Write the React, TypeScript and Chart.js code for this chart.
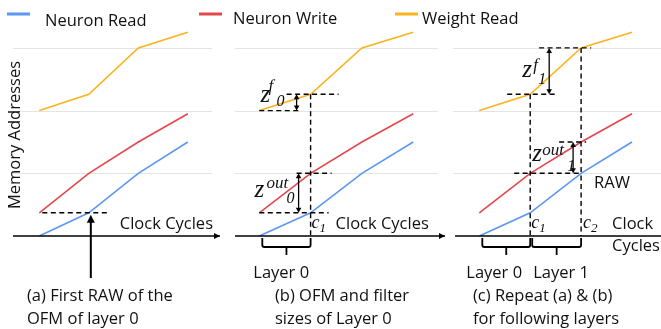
import React, { useEffect, useRef } from "react";
import { Chart, registerables } from "chart.js";

Chart.register(...registerables);

// ---- data ----
const SERIES_NAMES = ["Neuron Read", "Neuron Write", "Weight Read"];
const SERIES_COLORS = ["#5B97F2", "#E4474B", "#FBB31B"];
const CLOCK_STEPS = [0, 1, 2, 3];
const NEURON_READ = [0, 0.37, 1.0, 1.5];
const NEURON_WRITE = [0.37, 1.0, 1.5, 1.95];
const WEIGHT_READ = [2.0, 2.26, 3.0, 3.25];
const GRID_LEVELS = [1, 2, 3];
const PANEL_IDS = ["xa", "xb", "xc"];
const CAPTION_A = ["(a) First RAW of the", "OFM of layer 0"];
const CAPTION_B = ["(b) OFM and filter", "sizes of Layer 0"];
const CAPTION_C = ["(c) Repeat (a) & (b)", "for following layers"];
const AXIS_TEXT = "Clock Cycles";
const Y_TITLE = "Memory Addresses";

// ---- layout (pixels) ----
const W = 661;
const H = 329;
const AXIS_Y = 236;
const Y_UNIT = 62.7;
const PANEL_ORIGIN = [39.3, 259.3, 479.3];
const PANEL_UNIT = [49.5, 51.3, 50.9];
const GRID_SPAN = [[13, 212], [235, 438], [453, 661]];
const AXIS_SPAN = [[13, 220, true], [235, 445, true], [455, 670, false]];

const SANS = '"Open Sans", "DejaVu Sans", sans-serif';
const SERIF = '"Liberation Serif", "DejaVu Serif", serif';
const FS = 16.5;

type Ctx = CanvasRenderingContext2D;

function seg(ctx: Ctx, x1: number, y1: number, x2: number, y2: number, w = 1.5, dash: number[] = []) {
  ctx.save();
  ctx.strokeStyle = "#000";
  ctx.lineWidth = w;
  ctx.setLineDash(dash);
  ctx.beginPath();
  ctx.moveTo(x1, y1);
  ctx.lineTo(x2, y2);
  ctx.stroke();
  ctx.restore();
}
const DASH = [5, 3.5];
function dashH(ctx: Ctx, x1: number, x2: number, y: number) {
  seg(ctx, x1, y, x2, y, 1.4, DASH);
}
function dashV(ctx: Ctx, x: number, y1: number, y2: number) {
  seg(ctx, x, y1, x, y2, 1.4, DASH);
}
function head(ctx: Ctx, x: number, y: number, dx: number, dy: number, len: number, half: number) {
  const px = -dy, py = dx;
  ctx.save();
  ctx.fillStyle = "#000";
  ctx.beginPath();
  ctx.moveTo(x, y);
  ctx.lineTo(x - dx * len + px * half, y - dy * len + py * half);
  ctx.lineTo(x - dx * len - px * half, y - dy * len - py * half);
  ctx.closePath();
  ctx.fill();
  ctx.restore();
}
function dArrow(ctx: Ctx, x: number, yTop: number, yBot: number) {
  seg(ctx, x, yTop + 3, x, yBot - 3, 1.3);
  head(ctx, x, yTop, 0, -1, 5, 2.8);
  head(ctx, x, yBot, 0, 1, 5, 2.8);
}
function txt(ctx: Ctx, s: string, x: number, y: number, font: string, align: CanvasTextAlign = "left") {
  ctx.save();
  ctx.fillStyle = "#111";
  ctx.font = font;
  ctx.textAlign = align;
  ctx.textBaseline = "alphabetic";
  ctx.fillText(s, x, y);
  ctx.restore();
}
function zLabel(ctx: Ctx, x: number, base: number, sup: string, supDx: number, supDy: number, sub: string, subDx: number, subDy: number) {
  txt(ctx, "z", x, base, `italic 25px ${SERIF}`);
  txt(ctx, sup, x + supDx, base + supDy, `italic 17px ${SERIF}`);
  txt(ctx, sub, x + subDx, base + subDy, `italic 16px ${SERIF}`);
}
function cLabel(ctx: Ctx, x: number, base: number, sub: string) {
  txt(ctx, "c", x, base, `italic 18px ${SERIF}`);
  txt(ctx, sub, x + 8, base + 4, `italic 13px ${SERIF}`);
}
function bracket(ctx: Ctx, x1: number, x2: number, top: number) {
  const mid = (x1 + x2) / 2;
  ctx.save();
  ctx.strokeStyle = "#000";
  ctx.lineWidth = 1.8;
  ctx.beginPath();
  ctx.moveTo(x1, top);
  ctx.lineTo(x1, top + 7);
  ctx.quadraticCurveTo(x1, top + 9, x1 + 2, top + 9);
  ctx.lineTo(x2 - 2, top + 9);
  ctx.quadraticCurveTo(x2, top + 9, x2, top + 7);
  ctx.lineTo(x2, top);
  ctx.moveTo(mid, top + 9);
  ctx.lineTo(mid, top + 17);
  ctx.stroke();
  ctx.restore();
}

const decor = {
  id: "decor",
  beforeDatasetsDraw(chart: any) {
    const ctx: Ctx = chart.ctx;
    const ys = chart.scales.y;
    ctx.save();
    ctx.strokeStyle = "#e4e4e4";
    ctx.lineWidth = 1;
    GRID_SPAN.forEach(([a, b]) => {
      GRID_LEVELS.forEach((lv) => {
        const y = Math.round(ys.getPixelForValue(lv)) + 0.5;
        ctx.beginPath();
        ctx.moveTo(a, y);
        ctx.lineTo(b, y);
        ctx.stroke();
      });
    });
    ctx.restore();
  },
  afterDatasetsDraw(chart: any) {
    const ctx: Ctx = chart.ctx;
    const Y = (v: number) => chart.scales.y.getPixelForValue(v);
    const X = (id: string, v: number) => chart.scales[id].getPixelForValue(v);
    const y0 = Y(0);

    // axes
    AXIS_SPAN.forEach(([a, b, arrow]) => {
      seg(ctx, a as number, y0, b as number, y0, 1.6);
      if (arrow) head(ctx, b as number, y0, 1, 0, 6, 3);
    });

    // legend
    SERIES_NAMES.forEach((name, i) => {
      const lx = [7, 199, 395][i];
      const tx = [45, 233, 422][i];
      const tb = [25.5, 23.5, 23.5][i];
      ctx.save();
      ctx.strokeStyle = SERIES_COLORS[i];
      ctx.lineWidth = 3;
      ctx.beginPath();
      ctx.moveTo(lx, 14);
      ctx.lineTo(lx + 23, 14);
      ctx.stroke();
      ctx.restore();
      txt(ctx, name, tx, tb, `${FS}px ${SANS}`);
    });

    // y title
    ctx.save();
    ctx.translate(20, 135);
    ctx.rotate(-Math.PI / 2);
    ctx.fillStyle = "#111";
    ctx.font = `${FS}px ${SANS}`;
    ctx.textAlign = "center";
    ctx.textBaseline = "alphabetic";
    ctx.fillText(Y_TITLE, 0, 0);
    ctx.restore();

    // ---- panel (a) ----
    {
      const id = "xa";
      dashH(ctx, X(id, 0) + 3, X(id, 1) + 19, Y(NEURON_READ[1]));
      const ax = X(id, 1) + 2;
      seg(ctx, ax, y0 + 42, ax, Y(NEURON_READ[1]) + 9, 2);
      head(ctx, ax, Y(NEURON_READ[1]) + 2, 0, -1, 8, 4);
      txt(ctx, AXIS_TEXT, X(id, 1) + 31, y0 - 7, `${FS}px ${SANS}`);
      txt(ctx, CAPTION_A[0], 27, 301, `${FS}px ${SANS}`);
      txt(ctx, CAPTION_A[1], 27, 324, `${FS}px ${SANS}`);
    }

    // ---- panel (b) ----
    {
      const id = "xb";
      const c1 = X(id, 1);
      dashH(ctx, c1 - 24, c1 + 28, Y(WEIGHT_READ[1]));
      dashH(ctx, X(id, 0), c1 - 12, Y(WEIGHT_READ[0]));
      dArrow(ctx, c1 - 14, Y(WEIGHT_READ[1]), Y(WEIGHT_READ[0]));
      zLabel(ctx, c1 - 50, Y(WEIGHT_READ[1]) + 8, "f", 8, -11, "0", 16, 4);
      dashV(ctx, c1, Y(WEIGHT_READ[1]), y0);
      dashH(ctx, c1 - 14, c1 + 21, Y(NEURON_WRITE[1]));
      dashH(ctx, X(id, 0), c1 + 18, Y(NEURON_WRITE[0]));
      dArrow(ctx, c1 - 12, Y(NEURON_WRITE[1]), Y(NEURON_WRITE[0]));
      zLabel(ctx, c1 - 56, Y(NEURON_WRITE[1]) + 24, "out", 12, -9, "0", 32, 6);
      cLabel(ctx, c1 + 1, y0 - 8, "1");
      txt(ctx, AXIS_TEXT, c1 + 25, y0 - 7, `${FS}px ${SANS}`);
      bracket(ctx, X(id, 0) + 3, c1, y0 + 2);
      txt(ctx, "Layer 0", X(id, 0) - 6, 278, `${FS}px ${SANS}`);
      txt(ctx, CAPTION_B[0], 275, 301, `${FS}px ${SANS}`);
      txt(ctx, CAPTION_B[1], 275, 324, `${FS}px ${SANS}`);
    }

    // ---- panel (c) ----
    {
      const id = "xc";
      const c1 = X(id, 1);
      const c2 = X(id, 2);
      dashH(ctx, c2 - 42, c2 + 10, Y(WEIGHT_READ[2]));
      dashH(ctx, c1 - 23, c1 + 26, Y(WEIGHT_READ[1]));
      dArrow(ctx, c1 + 19, Y(WEIGHT_READ[2]), Y(WEIGHT_READ[1]));
      zLabel(ctx, c1 - 8, Y(WEIGHT_READ[1]) - 17, "f", 11, -7, "1", 16, 7);
      dashV(ctx, c1, Y(WEIGHT_READ[1]), y0);
      dashV(ctx, c2, Y(WEIGHT_READ[2]), y0);
      dashH(ctx, c2 - 22, c2 + 5, Y(NEURON_WRITE[2]));
      dashH(ctx, c1 - 16, c2 - 2, Y(NEURON_WRITE[1]));
      dArrow(ctx, c2 - 8, Y(NEURON_WRITE[2]), Y(NEURON_WRITE[1]));
      zLabel(ctx, c1 + 2, Y(NEURON_WRITE[1]) - 12, "out", 10, -6, "1", 35, 10);
      txt(ctx, "RAW", c2 + 13, Y(NEURON_WRITE[1]) + 15, `${FS}px ${SANS}`);
      cLabel(ctx, c1 + 1, y0 - 8, "1");
      cLabel(ctx, c2 + 2, y0 - 8, "2");
      txt(ctx, "Clock", c2 + 31, y0 - 7, `${FS}px ${SANS}`);
      txt(ctx, "Cycles", c2 + 31, y0 + 15, `${FS}px ${SANS}`);
      bracket(ctx, X(id, 0) + 3, c1, y0 + 2);
      bracket(ctx, c1 + 2, c2, y0 + 2);
      txt(ctx, "Layer 0", X(id, 0) - 13, 278, `${FS}px ${SANS}`);
      txt(ctx, "Layer 1", c1 + 3, 278, `${FS}px ${SANS}`);
      txt(ctx, CAPTION_C[0], 473, 301, `${FS}px ${SANS}`);
      txt(ctx, CAPTION_C[1], 473, 324, `${FS}px ${SANS}`);
    }
  },
};

export default function App() {
  const ref = useRef<HTMLCanvasElement | null>(null);
  useEffect(() => {
    if (!ref.current) return;
    const series = [NEURON_READ, NEURON_WRITE, WEIGHT_READ];
    const datasets: any[] = [];
    PANEL_IDS.forEach((pid) => {
      series.forEach((vals, s) => {
        datasets.push({
          label: SERIES_NAMES[s],
          data: CLOCK_STEPS.map((x, i) => ({ x, y: vals[i] })),
          xAxisID: pid,
          yAxisID: "y",
          borderColor: SERIES_COLORS[s],
          backgroundColor: SERIES_COLORS[s],
          borderWidth: 1.6,
          pointRadius: 0,
          tension: 0,
          fill: false,
        });
      });
    });
    const scales: any = {
      y: { type: "linear", display: false, min: 0, max: AXIS_Y / Y_UNIT },
    };
    PANEL_IDS.forEach((pid, p) => {
      scales[pid] = {
        type: "linear",
        axis: "x",
        position: "bottom",
        display: false,
        min: -PANEL_ORIGIN[p] / PANEL_UNIT[p],
        max: (W - PANEL_ORIGIN[p]) / PANEL_UNIT[p],
      };
    });
    const chart = new Chart(ref.current, {
      type: "line",
      data: { datasets },
      options: {
        responsive: false,
        animation: false,
        devicePixelRatio: 1,
        layout: { padding: { left: 0, right: 0, top: 0, bottom: H - AXIS_Y } },
        scales,
        plugins: { legend: { display: false }, tooltip: { enabled: false } },
        events: [],
      } as any,
      plugins: [decor as any],
    });
    return () => chart.destroy();
  }, []);
  return (
    <div style={{ position: "absolute", left: 0, top: 0, width: W, height: H, background: "#fff" }}>
      <canvas ref={ref} width={W} height={H} style={{ display: "block", width: W, height: H }} />
    </div>
  );
}
